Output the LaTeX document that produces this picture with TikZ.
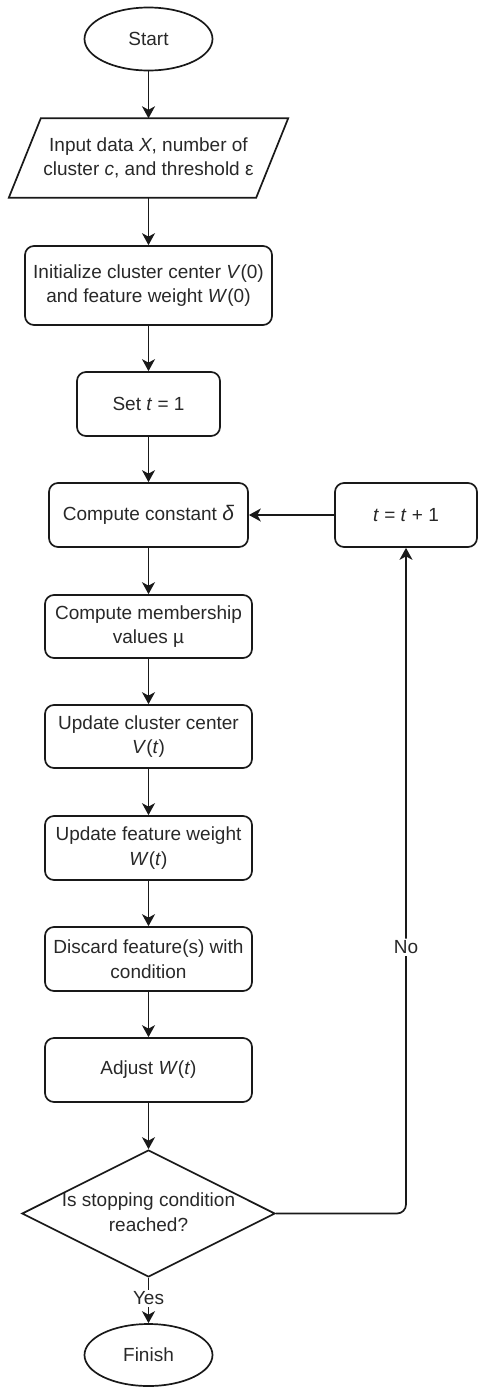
\documentclass[tikz,border=0pt]{standalone}
\usepackage{fontspec}
\setmainfont{Liberation Sans}
\usetikzlibrary{shapes.geometric,arrows.meta}
\definecolor{txt}{RGB}{40,40,40}
\definecolor{ln}{RGB}{25,25,25}
\begin{document}
\begin{tikzpicture}[x=1pt,y=-1pt,
  every node/.style={text=txt, font=\fontsize{19}{24.5}\selectfont},
  box/.style={draw=ln, line width=1.7pt, rounded corners=9pt, inner sep=0pt, align=center, minimum height=64pt},
  term/.style={draw=ln, line width=1.7pt, ellipse, minimum width=128pt, minimum height=63pt, inner sep=0pt},
  arr/.style={draw=ln, line width=1.7pt, -{Stealth[length=12pt,width=13pt,inset=3.5pt]}},
  lbl/.style={fill=white, inner sep=2pt}
]
\useasboundingbox (0,0) rectangle (478,1387);
\node[term] (start) at (148.5,39) {Start};
\node[minimum width=279pt, minimum height=79pt, inner sep=0pt, align=center] (input) at (148.5,158) {Input data \textit{X}, number of\\cluster \textit{c}, and threshold ε};
\draw[ln, line width=1.7pt] ([xshift=32pt]input.north west) -- (input.north east) -- ([xshift=-32pt]input.south east) -- (input.south west) -- cycle;
\node[box, minimum width=247pt, minimum height=79pt] (init) at (148.5,285.5) {Initialize cluster center \textit{V}(0)\\and feature weight \textit{W}(0)};
\node[box, minimum width=143pt] (set) at (148.5,404) {Set \textit{t} = 1};
\node[box, minimum width=199pt] (delta) at (148.5,515) {Compute constant \textit{\fontsize{21}{24.5}\selectfont δ}};
\node[box, minimum width=142pt] (tplus) at (406,515) {\textit{t} = \textit{t} + 1};
\node[box, minimum width=207pt, minimum height=63pt] (memb) at (148.5,626.5) {Compute membership\\values µ};
\node[box, minimum width=207pt, minimum height=63pt] (upv) at (148.5,736.5) {Update cluster center\\\textit{V}(\textit{t})};
\node[box, minimum width=207pt, minimum height=64pt] (upw) at (148.5,848) {Update feature weight\\\textit{W}(\textit{t})};
\node[box, minimum width=207pt, minimum height=64pt] (disc) at (148.5,959) {Discard feature(s) with\\condition};
\node[box, minimum width=207pt, minimum height=64pt] (adj) at (148.5,1070) {Adjust \textit{W}(\textit{t})};
\node[draw=ln, line width=1.7pt, diamond, minimum width=253pt, minimum height=127pt, inner sep=0pt] (dec) at (148.5,1213.5) {};
\node[align=center] (dectext) at (148.5,1212) {Is stopping condition\\reached?};
\node[term, minimum height=62pt] (fin) at (148.5,1355) {Finish};
\draw[arr] (start) -- (input);
\draw[arr] (input) -- (init);
\draw[arr] (init) -- (set);
\draw[arr] (set) -- (delta);
\draw[arr] (delta) -- (memb);
\draw[arr] (memb) -- (upv);
\draw[arr] (upv) -- (upw);
\draw[arr] (upw) -- (disc);
\draw[arr] (disc) -- (adj);
\draw[arr] (adj) -- (dec.north);
\draw[arr] (dec.south) -- node[lbl, pos=0.45] {Yes} (fin);
\draw[arr, rounded corners=9pt] (dec.east) -| node[lbl, pos=0.7] {No} (tplus.south);
\draw[arr] (tplus) -- (delta);
\end{tikzpicture}
\end{document}
